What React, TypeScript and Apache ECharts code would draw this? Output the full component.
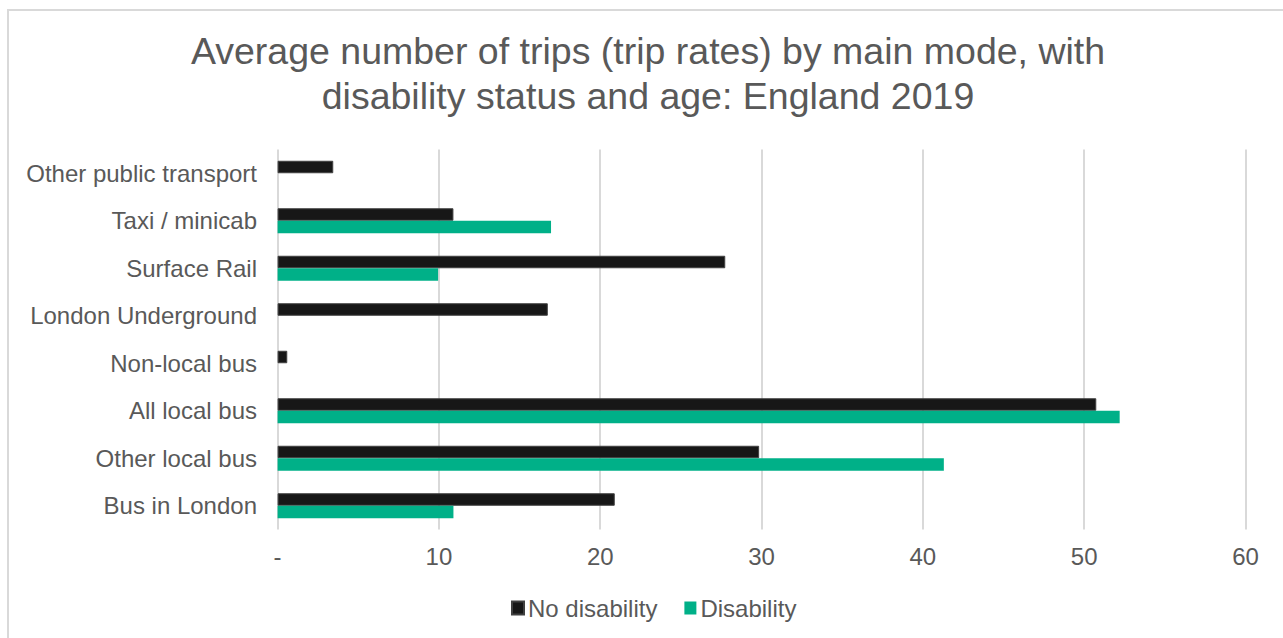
import React, { useEffect, useRef } from "react";
import * as echarts from "echarts";

const categories = [
  "Other public transport",
  "Taxi / minicab",
  "Surface Rail",
  "London Underground",
  "Non-local bus",
  "All local bus",
  "Other local bus",
  "Bus in London",
];
const noDisability = [3.45, 10.9, 27.75, 16.75, 0.6, 50.75, 29.85, 20.9];
const disability = [null, 16.95, 9.95, null, null, 52.2, 41.3, 10.9];
const xTicks = [0, 10, 20, 30, 40, 50, 60];

const FONT = "'Liberation Sans', Arial, sans-serif";
const TEXT = "#595959";

export default function App() {
  const ref = useRef<HTMLDivElement>(null);
  useEffect(() => {
    document.body.style.margin = "0";
    const chart = echarts.init(ref.current!, null, { renderer: "svg" });
    chart.setOption({
      animation: false,
      textStyle: { fontFamily: FONT },
      title: {
        text: "Average number of trips (trip rates) by main mode, with\ndisability status and age: England 2019",
        left: 648,
        top: 28,
        padding: 0,
        textAlign: "center",
        textStyle: {
          fontFamily: FONT,
          fontSize: 37.5,
          lineHeight: 45,
          fontWeight: "normal",
          color: TEXT,
        },
      },
      graphic: [
        {
          type: "rect",
          shape: { x: 8, y: 10, width: 1400, height: 800 },
          style: { fill: "none", stroke: "#d9d9d9", lineWidth: 2 },
          silent: true,
          z: -10,
        },
      ],
      legend: {
        data: ["No disability", "Disability"],
        left: 511,
        top: 596,
        padding: 0,
        itemWidth: 12,
        itemHeight: 13,
        itemGap: 27,
        icon: "rect",
        textStyle: { fontFamily: FONT, fontSize: 24, color: TEXT, padding: [0, 0, 0, -1] },
      },
      grid: { left: 277.6, right: 37.5, top: 149.5, bottom: 108.5, containLabel: false },
      xAxis: {
        type: "value",
        min: xTicks[0],
        max: xTicks[xTicks.length - 1],
        interval: 10,
        axisLine: { show: false },
        axisTick: { show: false },
        splitLine: { show: true, lineStyle: { color: "#d9d9d9", width: 2 } },
        axisLabel: {
          margin: 15,
          fontFamily: FONT,
          fontSize: 24,
          color: TEXT,
          formatter: (v: number) => (v === 0 ? "-" : String(v)),
        },
      },
      yAxis: {
        type: "category",
        data: categories,
        inverse: true,
        axisLine: { show: false },
        axisTick: { show: false },
        splitLine: { show: false },
        axisLabel: { margin: 20.6, fontFamily: FONT, fontSize: 24, color: TEXT, padding: [0, 0, 3, 0] },
      },
      series: [
        {
          name: "No disability",
          type: "bar",
          data: noDisability,
          barWidth: 12.5,
          barGap: "0%",
          itemStyle: { color: "#171717", borderColor: "#404040", borderWidth: 1 },
        },
        {
          name: "Disability",
          type: "bar",
          data: disability,
          barWidth: 12.5,
          barGap: "0%",
          itemStyle: { color: "#00b088" },
        },
      ],
    });
    return () => chart.dispose();
  }, []);
  return <div ref={ref} style={{ width: 1283, height: 638 }} />;
}
